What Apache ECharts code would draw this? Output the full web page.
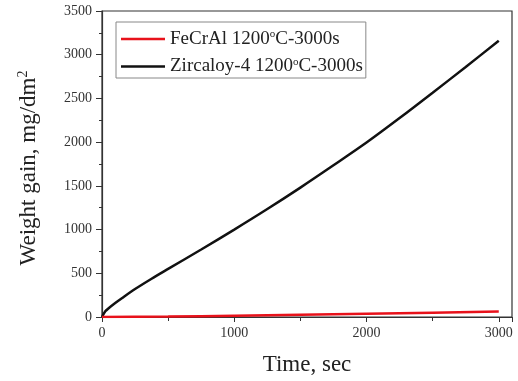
<!DOCTYPE html>
<html>
<head>
<meta charset="utf-8">
<script src="https://cdn.jsdelivr.net/npm/echarts@6/dist/echarts.min.js"></script>
<style>
  html, body { margin: 0; padding: 0; background: #fff; }
  #chart { width: 518px; height: 381px; }
</style>
</head>
<body>
<div id="chart"></div>
<script>
// time (s) and weight gain (mg/dm2)
const zrTime = [0, 25, 50, 100, 150, 250, 375, 500, 750, 1000, 1250, 1500, 1750, 2000, 2250, 2500, 2750, 3000];
const zrGain = [0, 65, 100, 160, 215, 320, 438, 550, 772, 1000, 1235, 1480, 1735, 1995, 2275, 2565, 2860, 3160];
const fecralTime = [0, 500, 1000, 1500, 2000, 2500, 3000];
const fecralGain = [0, 5, 14, 26, 38, 50, 62];
const seriesNames = ['FeCrAl', 'Zircaloy-4'];

const FONT = 'Liberation Serif';

const chart = echarts.init(document.getElementById('chart'));

const pair = (xs, ys) => xs.map((x, i) => [x, ys[i]]);

const option = {
    animation: false,
    backgroundColor: '#fff',
    grid: {
        left: 102,
        right: 6,
        top: 11,
        bottom: 64,
        show: true,
        borderColor: '#333',
        borderWidth: 1.2
    },
    legend: {
        left: 116,
        top: 22,
        orient: 'vertical',
        data: seriesNames,
        icon: 'rect',
        itemWidth: 44,
        itemHeight: 2.5,
        itemGap: 8,
        padding: [7, 3, 2, 5],
        borderColor: '#888',
        borderWidth: 1,
        borderRadius: 0,
        formatter: function (name) {
            return '{t|' + name + ' 1200}{sup|o}{t|C-3000s}';
        },
        textStyle: {
            fontFamily: FONT,
            color: '#222',
            rich: {
                t: { fontFamily: FONT, fontSize: 19, color: '#222' },
                sup: { fontFamily: FONT, fontSize: 11, color: '#222', verticalAlign: 'top', padding: [0, 0, 9, 0] }
            }
        }
    },
    xAxis: {
        type: 'value',
        min: 0,
        max: 3100,
        interval: 1000,
        name: 'Time, sec',
        nameLocation: 'middle',
        nameGap: 36,
        nameTextStyle: { fontFamily: FONT, fontSize: 23, color: '#222' },
        axisLine: { lineStyle: { color: '#333', width: 1.2 } },
        axisTick: { show: true, inside: false, length: 5, lineStyle: { color: '#333' } },
        minorTick: { show: true, splitNumber: 2, length: 4, lineStyle: { color: '#333' } },
        splitLine: { show: false },
        axisLabel: {
            fontFamily: FONT, fontSize: 14, color: '#333', margin: 9,
            showMaxLabel: false,
            formatter: (v) => String(v)
        }
    },
    yAxis: {
        type: 'value',
        min: 0,
        max: 3500,
        interval: 500,
        name: 'Weight gain, mg/dm{sup|2}',
        nameLocation: 'middle',
        nameGap: 60,
        nameTextStyle: {
            fontFamily: FONT, fontSize: 23, color: '#222',
            padding: [0, 8, 0, 0],
            rich: {
                sup: { fontFamily: FONT, fontSize: 14, color: '#222', verticalAlign: 'top', padding: [0, 0, 12, 0] }
            }
        },
        axisLine: { show: true, lineStyle: { color: '#333', width: 1.2 } },
        axisTick: { show: true, inside: false, length: 6, lineStyle: { color: '#333' } },
        minorTick: { show: true, splitNumber: 2, length: 3, lineStyle: { color: '#333' } },
        splitLine: { show: false },
        axisLabel: {
            fontFamily: FONT, fontSize: 14, color: '#333', margin: 10,
            formatter: (v) => String(v)
        }
    },
    series: [
        {
            name: seriesNames[0],
            type: 'line',
            data: pair(fecralTime, fecralGain),
            smooth: true,
            showSymbol: false,
            z: 3,
            lineStyle: { color: '#e8121b', width: 2.5 },
            itemStyle: { color: '#e8121b' }
        },
        {
            name: seriesNames[1],
            type: 'line',
            data: pair(zrTime, zrGain),
            smooth: 0.3,
            showSymbol: false,
            z: 2,
            lineStyle: { color: '#111', width: 2.5 },
            itemStyle: { color: '#111' }
        }
    ]
};

chart.setOption(option);
</script>
</body>
</html>
